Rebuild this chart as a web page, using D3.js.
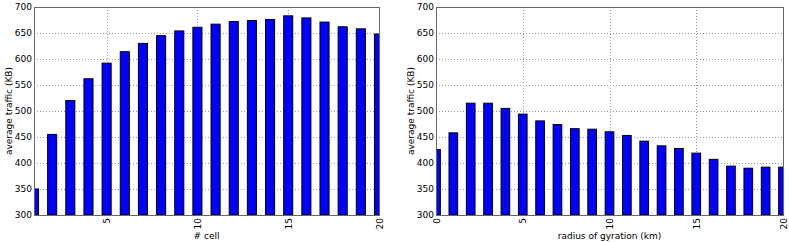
<!DOCTYPE html>
<html>
<head>
<meta charset="utf-8">
<script src="https://cdn.jsdelivr.net/npm/d3@7"></script>
<style>
  body { margin: 0; background: #fff; }
  svg { display: block; font-family: "DejaVu Sans", sans-serif; }
</style>
</head>
<body>
<div id="chart"></div>
<script>
// Data
const cellCounts = d3.range(1, 21);
const cellTraffic = [350, 455, 520, 562, 592, 614, 630, 645, 654, 661,
                     667, 672, 674, 676, 683, 679, 671, 662, 658, 648];

const gyrationRadii = d3.range(0, 21);
const gyrationTraffic = [426, 458, 515, 515, 505, 494, 481, 474, 466, 465,
                         460, 453, 442, 433, 428, 419, 407, 394, 390, 392, 392];

const yTicks = [300, 350, 400, 450, 500, 550, 600, 650, 700];
const xTicks = [5, 10, 15, 20];
const xTicksRight = [0, 5, 10, 15, 20];

const svg = d3.select("#chart")
  .append("svg")
  .attr("width", 789)
  .attr("height", 242);

const plotTop = 7, plotBottom = 215;

function panel(opts) {
  const { left, right, xDomain, xs, ys, ticksX, xLabel, clipId } = opts;

  const x = d3.scaleLinear().domain(xDomain).range([left, right]);
  const y = d3.scaleLinear().domain([300, 700]).range([plotBottom, plotTop]);

  const g = svg.append("g");

  g.append("clipPath")
    .attr("id", clipId)
    .append("rect")
    .attr("x", left)
    .attr("y", plotTop)
    .attr("width", right - left)
    .attr("height", plotBottom - plotTop);

  // Grid lines
  g.selectAll("line.hgrid")
    .data(yTicks.slice(1, -1))
    .enter()
    .append("line")
    .attr("x1", left)
    .attr("x2", right)
    .attr("y1", d => y(d) + 0.5)
    .attr("y2", d => y(d) + 0.5)
    .style("stroke", "#999")
    .style("stroke-width", 1)
    .style("stroke-dasharray", "1,2");

  g.selectAll("line.vgrid")
    .data(ticksX.filter(d => d > xDomain[0] && d < xDomain[1]))
    .enter()
    .append("line")
    .attr("x1", d => Math.round(x(d)) + 0.5)
    .attr("x2", d => Math.round(x(d)) + 0.5)
    .attr("y1", plotTop)
    .attr("y2", plotBottom)
    .style("stroke", "#999")
    .style("stroke-width", 1)
    .style("stroke-dasharray", "1,2");

  // Bars (width 0.5, centered on value)
  g.append("g")
    .attr("clip-path", `url(#${clipId})`)
    .selectAll("rect")
    .data(xs.map((v, i) => ({ x: v, y: ys[i] })))
    .enter()
    .append("rect")
    .attr("x", d => x(d.x - 0.25))
    .attr("y", d => y(d.y))
    .attr("width", d => x(d.x + 0.25) - x(d.x - 0.25))
    .attr("height", d => plotBottom - y(d.y))
    .style("fill", "#0000ff")
    .style("stroke", "#000")
    .style("stroke-width", 1);

  // Frame
  g.append("rect")
    .attr("x", left + 0.5)
    .attr("y", plotTop + 0.5)
    .attr("width", right - left)
    .attr("height", plotBottom - plotTop)
    .style("fill", "none")
    .style("stroke", "#666")
    .style("stroke-width", 1);

  // Y axis
  g.append("g")
    .attr("transform", `translate(${left},0)`)
    .call(d3.axisLeft(y).tickValues(yTicks).tickSize(0).tickPadding(2))
    .call(a => a.select(".domain").remove())
    .selectAll("text")
    .style("font-size", "9px")
    .style("font-family", "DejaVu Sans")
    .style("fill", "#000");

  // X axis, labels rotated
  g.append("g")
    .attr("transform", `translate(0,${plotBottom})`)
    .call(d3.axisBottom(x).tickValues(ticksX).tickSize(0))
    .call(a => a.select(".domain").remove())
    .selectAll("text")
    .attr("transform", "rotate(-90)")
    .attr("x", -3)
    .attr("y", 0)
    .attr("dy", "0.35em")
    .style("text-anchor", "end")
    .style("font-size", "9px")
    .style("font-family", "DejaVu Sans")
    .style("fill", "#000");

  // Axis labels
  g.append("text")
    .attr("text-anchor", "middle")
    .attr("transform", `translate(${left - 25},${(plotTop + plotBottom) / 2}) rotate(-90)`)
    .attr("dy", "0.35em")
    .style("font-size", "9px")
    .text("average traffic (KB)");

  g.append("text")
    .attr("text-anchor", "middle")
    .attr("x", (left + right) / 2)
    .attr("y", 239)
    .style("font-size", "9px")
    .text(xLabel);
}

panel({
  left: 34, right: 379, xDomain: [1, 20],
  xs: cellCounts, ys: cellTraffic, ticksX: xTicks,
  xLabel: "# cell", clipId: "clipL"
});

panel({
  left: 436, right: 783, xDomain: [0, 20],
  xs: gyrationRadii, ys: gyrationTraffic, ticksX: xTicksRight,
  xLabel: "radius of gyration (km)", clipId: "clipR"
});
</script>
</body>
</html>
